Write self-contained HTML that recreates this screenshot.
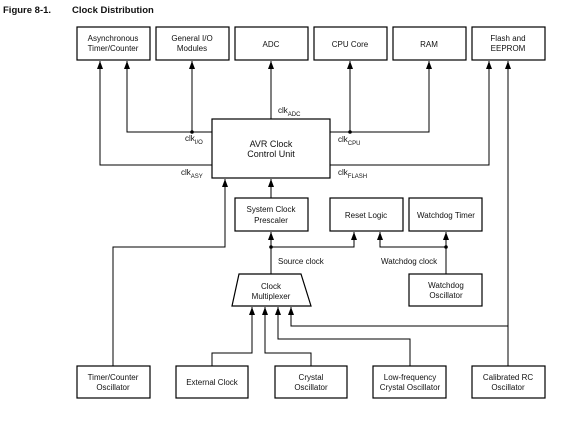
<!DOCTYPE html>
<html><head><style>
body{margin:0;background:#fff}
svg text{font-family:"Liberation Sans",sans-serif;font-size:8px;fill:#111}
</style></head><body>
<svg width="577" height="419" viewBox="0 0 577 419" xmlns="http://www.w3.org/2000/svg">
<defs><marker id="a" markerWidth="8" markerHeight="6" refX="8" refY="3" orient="auto" markerUnits="userSpaceOnUse" viewBox="0 0 8 6"><path d="M0,0 L8,3 L0,6 Z" fill="#000"/></marker></defs>
<text x="3" y="13" style="font-size:9.5px;font-weight:bold">Figure 8-1.</text>
<text x="72" y="13" style="font-size:9.5px;font-weight:bold">Clock Distribution</text>
<g fill="none" stroke="#000" stroke-width="1.2">
<rect x="77" y="27" width="73" height="33"/><rect x="156" y="27" width="73" height="33"/>
<rect x="235" y="27" width="73" height="33"/><rect x="314" y="27" width="73" height="33"/>
<rect x="393" y="27" width="73" height="33"/><rect x="472" y="27" width="73" height="33"/>
<rect x="212" y="119" width="118" height="59"/>
<rect x="235" y="198" width="73" height="33"/><rect x="330" y="198" width="73" height="33"/>
<rect x="409" y="198" width="73" height="33"/><rect x="409" y="274" width="73" height="32"/>
<path d="M239,274 L301,274 L311,306 L232,306 Z"/>
<rect x="77" y="366" width="73" height="32"/><rect x="176" y="366" width="72" height="32"/>
<rect x="275" y="366" width="72" height="32"/><rect x="373" y="366" width="73" height="32"/>
<rect x="472" y="366" width="73" height="32"/>
</g>
<g fill="none" stroke="#000" stroke-width="1">
<path d="M212,165 H100 V61" marker-end="url(#a)"/>
<path d="M212,132 H127 V61" marker-end="url(#a)"/>
<path d="M192,132 V61" marker-end="url(#a)"/>
<path d="M271,119 V61" marker-end="url(#a)"/>
<path d="M330,132 H429 V61" marker-end="url(#a)"/>
<path d="M350,132 V61" marker-end="url(#a)"/>
<path d="M330,165 H489 V61" marker-end="url(#a)"/>
<path d="M508,366 V61" marker-end="url(#a)"/>
<path d="M113,366 V247 H225 V179" marker-end="url(#a)"/>
<path d="M271,198 V179" marker-end="url(#a)"/>
<path d="M271,274 V232" marker-end="url(#a)"/>
<path d="M271,247 H354 V232" marker-end="url(#a)"/>
<path d="M446,247 H380 V232" marker-end="url(#a)"/>
<path d="M446,274 V232" marker-end="url(#a)"/>
<path d="M212,366 V353 H252 V307" marker-end="url(#a)"/>
<path d="M311,366 V353 H265 V307" marker-end="url(#a)"/>
<path d="M410,366 V339 H278 V307" marker-end="url(#a)"/>
<path d="M508,326 H291 V307" marker-end="url(#a)"/>
</g>
<g fill="#000"><circle cx="192" cy="132" r="1.8"/><circle cx="350" cy="132" r="1.8"/><circle cx="271" cy="247" r="1.8"/><circle cx="446" cy="247" r="1.8"/></g>
<g text-anchor="middle">
<text x="113" y="41">Asynchronous</text><text x="113" y="51">Timer/Counter</text>
<text x="192" y="41">General I/O</text><text x="192" y="51">Modules</text>
<text x="271" y="47">ADC</text><text x="350" y="47">CPU Core</text><text x="429" y="47">RAM</text>
<text x="508" y="41">Flash and</text><text x="508" y="51">EEPROM</text>
<text x="271" y="147" style="font-size:9px">AVR Clock</text><text x="271" y="157" style="font-size:9px">Control Unit</text>
<text x="271" y="212">System Clock</text><text x="271" y="223">Prescaler</text>
<text x="366" y="218">Reset Logic</text><text x="446" y="218">Watchdog Timer</text>
<text x="446" y="288">Watchdog</text><text x="446" y="298">Oscillator</text>
<text x="271" y="289">Clock</text><text x="271" y="299">Multiplexer</text>
<text x="113" y="380">Timer/Counter</text><text x="113" y="390">Oscillator</text>
<text x="212" y="385">External Clock</text>
<text x="311" y="380">Crystal</text><text x="311" y="390">Oscillator</text>
<text x="410" y="380">Low-frequency</text><text x="410" y="390">Crystal Oscillator</text>
<text x="508" y="380">Calibrated RC</text><text x="508" y="390">Oscillator</text>
</g>
<text x="278" y="113">clk<tspan dy="3" style="font-size:6px">ADC</tspan></text>
<text x="185" y="141">clk<tspan dy="3" style="font-size:6px">I/O</tspan></text>
<text x="338" y="142">clk<tspan dy="3" style="font-size:6px">CPU</tspan></text>
<text x="181" y="175">clk<tspan dy="3" style="font-size:6px">ASY</tspan></text>
<text x="338" y="175">clk<tspan dy="3" style="font-size:6px">FLASH</tspan></text>
<text x="278" y="264">Source clock</text>
<text x="381" y="264">Watchdog clock</text>
</svg>
</body></html>
